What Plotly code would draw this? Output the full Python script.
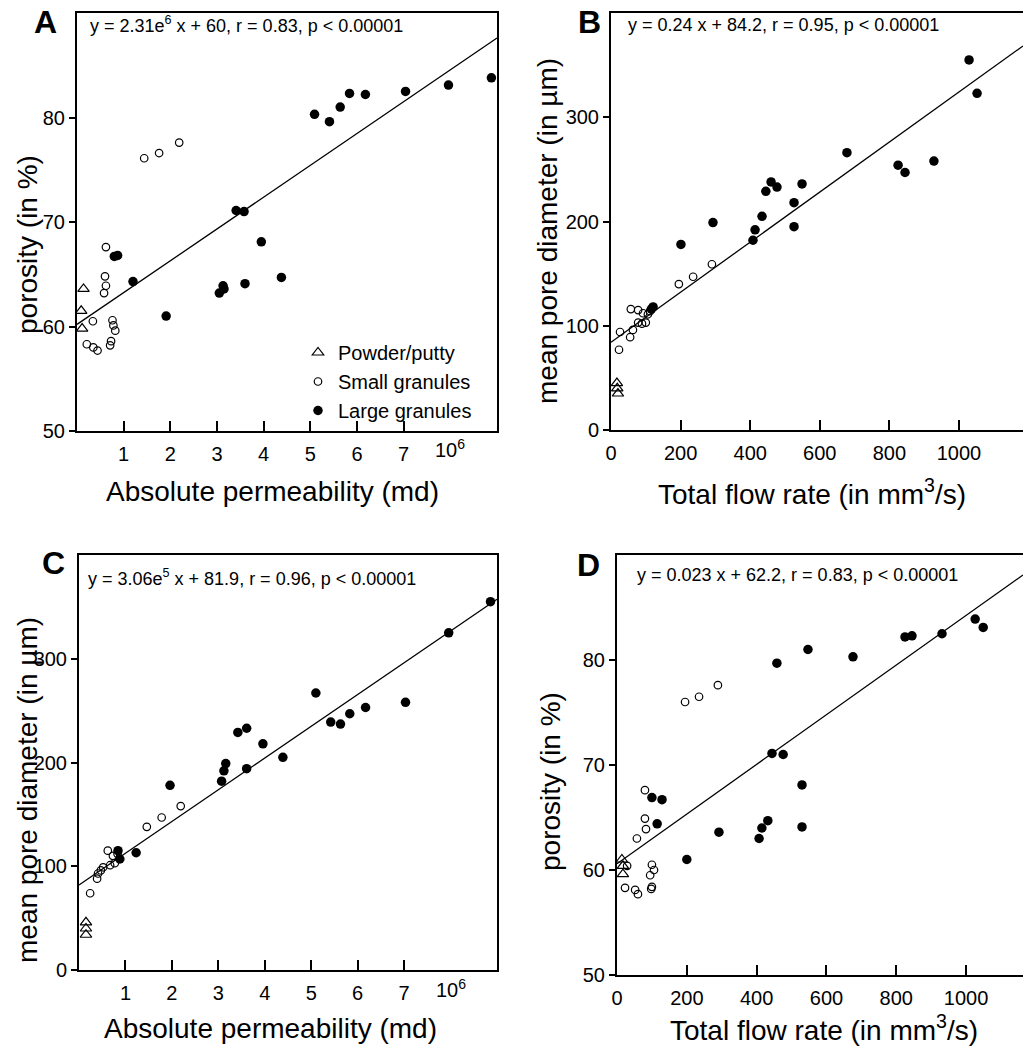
import plotly.graph_objects as go

W, H = 1023, 1048
FONT = "Arial, Liberation Sans, sans-serif"

# ---------------- data ----------------
# Panel A: porosity vs absolute permeability
A_powder_x = [0.14, 0.09, 0.11]
A_powder_y = [63.6, 61.5, 59.8]
A_small_x = [1.44, 1.76, 2.19, 0.62, 0.60, 0.62, 0.58, 0.34, 0.21, 0.35, 0.44, 0.76, 0.78, 0.82, 0.73, 0.71]
A_small_y = [76.1, 76.6, 77.6, 67.6, 64.8, 63.9, 63.2, 60.5, 58.3, 58.0, 57.7, 60.6, 60.1, 59.6, 58.6, 58.2]
A_large_x = [5.09, 5.41, 5.64, 5.84, 6.18, 7.04, 7.96, 8.88, 3.41, 3.58, 3.95, 0.80, 0.87, 1.20, 1.91, 3.05, 3.13, 3.15, 3.60, 4.38]
A_large_y = [80.3, 79.6, 81.0, 82.3, 82.2, 82.5, 83.1, 83.8, 71.1, 71.0, 68.1, 66.7, 66.8, 64.3, 61.0, 63.2, 63.9, 63.6, 64.1, 64.7]
A_fit_x = [0, 9]
A_fit_y = [60.2, 87.6]

# Panel B: mean pore diameter vs total flow rate
B_powder_x = [17, 18, 20]
B_powder_y = [45, 40, 35]
B_small_x = [290, 236, 195, 57, 78, 92, 89, 100, 106, 26, 55, 63, 23, 112, 78]
B_small_y = [159, 147, 140, 116, 115, 112, 102, 103, 111, 94, 89, 96, 77, 114, 103]
B_large_x = [1029, 1052, 678, 825, 845, 928, 460, 477, 445, 549, 526, 526, 434, 414, 408, 293, 201, 121, 116]
B_large_y = [355, 323, 266, 254, 247, 258, 238, 233, 229, 236, 218, 195, 205, 192, 182, 199, 178, 118, 116]
B_fit_x = [0, 1184]
B_fit_y = [84.2, 368.4]

# Panel C: mean pore diameter vs absolute permeability
C_powder_x = [0.15, 0.15, 0.15]
C_powder_y = [46, 40, 34]
C_small_x = [2.19, 1.78, 1.46, 0.62, 0.73, 0.67, 0.77, 0.52, 0.41, 0.39, 0.24, 0.47, 0.83]
C_small_y = [158, 147, 138, 115, 110, 101, 103, 99, 93, 88, 74, 96, 112]
C_large_x = [8.86, 7.96, 5.10, 7.03, 6.17, 5.83, 5.42, 5.63, 3.42, 3.61, 3.96, 4.39, 3.16, 3.12, 3.61, 3.07, 1.96, 1.23, 0.84, 0.88]
C_large_y = [355, 325, 267, 258, 253, 247, 239, 237, 229, 233, 218, 205, 199, 192, 194, 182, 178, 113, 115, 107]
C_fit_x = [0, 9]
C_fit_y = [81.9, 357.3]

# Panel D: porosity vs total flow rate
D_powder_x = [14, 17, 17]
D_powder_y = [61.0, 60.4, 59.6]
D_small_x = [195, 235, 289, 80, 80, 83, 57, 23, 52, 60, 100, 106, 95, 100, 98, 29]
D_small_y = [76.0, 76.5, 77.6, 67.6, 64.9, 63.9, 63.0, 58.3, 58.1, 57.7, 60.5, 60.0, 59.5, 58.4, 58.2, 60.4]
D_large_x = [1026, 1049, 931, 825, 845, 676, 547, 458, 444, 476, 530, 100, 129, 115, 200, 292, 407, 415, 432, 530]
D_large_y = [83.9, 83.1, 82.5, 82.2, 82.3, 80.3, 81.0, 79.7, 71.1, 71.0, 68.1, 66.9, 66.7, 64.4, 61.0, 63.6, 63.0, 64.0, 64.7, 64.1]
D_fit_x = [0, 1163]
D_fit_y = [60.6, 88.1]

perm_ticks = [1, 2, 3, 4, 5, 6, 7]
perm_scale_label = "10<sup>6</sup>"
perm_scale_pos = 8
flow_ticks = [0, 200, 400, 600, 800, 1000]
poro_ticks = [50, 60, 70, 80]
diam_ticks = [0, 100, 200, 300]

group_names = ["Powder/putty", "Small granules", "Large granules"]

equations = {
    "A": "y = 2.31e<sup>6</sup> x + 60, r = 0.83, p &lt; 0.00001",
    "B": "y = 0.24 x + 84.2, r = 0.95, p &lt; 0.00001",
    "C": "y = 3.06e<sup>5</sup> x + 81.9, r = 0.96, p &lt; 0.00001",
    "D": "y = 0.023 x + 62.2, r = 0.83, p &lt; 0.00001",
}
x_titles = {
    "A": "Absolute permeability (md)",
    "B": "Total flow rate (in mm<sup>3</sup>/s)",
    "C": "Absolute permeability (md)",
    "D": "Total flow rate (in mm<sup>3</sup>/s)",
}
y_titles = {
    "A": "porosity (in %)",
    "B": "mean pore diameter (in µm)",
    "C": "mean pore diameter (in µm)",
    "D": "porosity (in %)",
}

# ---------------- layout helpers ----------------
def fx(px):
    return px / W

def fy(py):
    return 1 - py / H

# pixel boxes: left, top, right, bottom
boxes = {
    "A": (77, 13, 497, 431),
    "B": (611, 13, 1023, 430),
    "C": (79, 555, 497, 970),
    "D": (617, 555, 1023, 975),
}
axis_ids = {"A": ("x", "y"), "B": ("x2", "y2"), "C": ("x3", "y3"), "D": ("x4", "y4")}

fig = go.Figure()

panels = {
    "A": (A_powder_x, A_powder_y, A_small_x, A_small_y, A_large_x, A_large_y, A_fit_x, A_fit_y),
    "B": (B_powder_x, B_powder_y, B_small_x, B_small_y, B_large_x, B_large_y, B_fit_x, B_fit_y),
    "C": (C_powder_x, C_powder_y, C_small_x, C_small_y, C_large_x, C_large_y, C_fit_x, C_fit_y),
    "D": (D_powder_x, D_powder_y, D_small_x, D_small_y, D_large_x, D_large_y, D_fit_x, D_fit_y),
}

marker_styles = [
    dict(symbol="triangle-up-open", size=10, color="black", line=dict(width=1.2, color="black")),
    dict(symbol="circle-open", size=7.5, color="black", line=dict(width=1.2, color="black")),
    dict(symbol="circle", size=9.5, color="black"),
]

for key, (px_, py_, sx, sy, lx, ly, fx_, fy_) in panels.items():
    xa, ya = axis_ids[key]
    fig.add_trace(go.Scatter(x=fx_, y=fy_, mode="lines", line=dict(color="black", width=1.3),
                             xaxis=xa, yaxis=ya, showlegend=False, hoverinfo="skip"))
    for (gx, gy), name, ms in zip([(px_, py_), (sx, sy), (lx, ly)], group_names, marker_styles):
        fig.add_trace(go.Scatter(x=gx, y=gy, mode="markers", marker=ms, name=name,
                                 xaxis=xa, yaxis=ya, showlegend=(key == "A"), cliponaxis=False))

axis_common = dict(showline=True, linewidth=2, linecolor="black", mirror=True,
                   showgrid=False, zeroline=False, automargin=False,
                   tickfont=dict(family=FONT, size=20, color="black"), tickcolor="black")

ranges = {
    "A": ([0, 9], [50, 90]),
    "B": ([0, 1184], [0, 400]),
    "C": ([0, 9], [0, 400]),
    "D": ([0, 1163], [50, 90]),
}
xticks = {"A": perm_ticks, "B": flow_ticks, "C": perm_ticks, "D": flow_ticks}
yticks = {"A": poro_ticks, "B": diam_ticks, "C": diam_ticks, "D": poro_ticks}

layout = {}
for i, key in enumerate(["A", "B", "C", "D"]):
    l, t, r, b = boxes[key]
    sfx = "" if i == 0 else str(i + 1)
    layout["xaxis" + sfx] = dict(axis_common, domain=[fx(l), fx(r)], range=ranges[key][0],
                                 anchor="y" + sfx, tickmode="array", tickvals=xticks[key],
                                 ticks="inside", ticklen=10, tickwidth=1.5, ticklabelstandoff=4)
    layout["yaxis" + sfx] = dict(axis_common, domain=[fy(b), fy(t)], range=ranges[key][1],
                                 anchor="x" + sfx, tickmode="array", tickvals=yticks[key],
                                 ticks="outside", ticklen=6, tickwidth=1.5)

fig.update_layout(**layout)

annotations = []
letter_pos = {"A": (45, 22), "B": (589, 22), "C": (53, 563), "D": (588, 565)}
eq_pos = {"A": (88, 25), "B": (626, 25), "C": (86, 577), "D": (635, 575)}
xt_pos = {"A": (272, 492), "B": (812, 492), "C": (270, 1028), "D": (824, 1028)}
yt_pos = {"A": (27, 245), "B": (547, 231), "C": (27, 790), "D": (550, 782)}

for key in ["A", "B", "C", "D"]:
    lx_, ly_ = letter_pos[key]
    annotations.append(dict(text="<b>%s</b>" % key, x=fx(lx_), y=fy(ly_), xref="paper", yref="paper",
                            showarrow=False, xanchor="center", yanchor="middle",
                            font=dict(family=FONT, size=32, color="black")))
    ex, ey = eq_pos[key]
    annotations.append(dict(text=equations[key], x=fx(ex), y=fy(ey), xref="paper", yref="paper",
                            showarrow=False, xanchor="left", yanchor="middle",
                            font=dict(family=FONT, size=18, color="black")))
    tx, ty = xt_pos[key]
    annotations.append(dict(text=x_titles[key], x=fx(tx), y=fy(ty), xref="paper", yref="paper",
                            showarrow=False, xanchor="center", yanchor="middle",
                            font=dict(family=FONT, size=28, color="black")))
    vx, vy = yt_pos[key]
    annotations.append(dict(text=y_titles[key], x=fx(vx), y=fy(vy), xref="paper", yref="paper",
                            showarrow=False, xanchor="center", yanchor="middle", textangle=-90,
                            font=dict(family=FONT, size=28, color="black")))

# "10^6" scale label on permeability axes
for key, xa, lab_py in [("A", "x", 448), ("C", "x3", 988)]:
    annotations.append(dict(text=perm_scale_label, x=perm_scale_pos, y=fy(lab_py), xref=xa, yref="paper",
                            showarrow=False, xanchor="center", yanchor="middle",
                            font=dict(family=FONT, size=20, color="black")))

fig.update_layout(
    width=W, height=H,
    margin=dict(l=0, r=0, t=0, b=0, autoexpand=False),
    paper_bgcolor="white", plot_bgcolor="white",
    annotations=annotations,
    showlegend=True,
    legend=dict(x=fx(298), y=fy(333), xanchor="left", yanchor="top",
                font=dict(family=FONT, size=20, color="black"),
                bgcolor="rgba(0,0,0,0)", borderwidth=0, tracegroupgap=0,
                itemsizing="trace"),
)

fig.write_html("out.html", config={"displayModeBar": False},
               post_script="document.body.style.margin='0';document.body.style.padding='0';")
